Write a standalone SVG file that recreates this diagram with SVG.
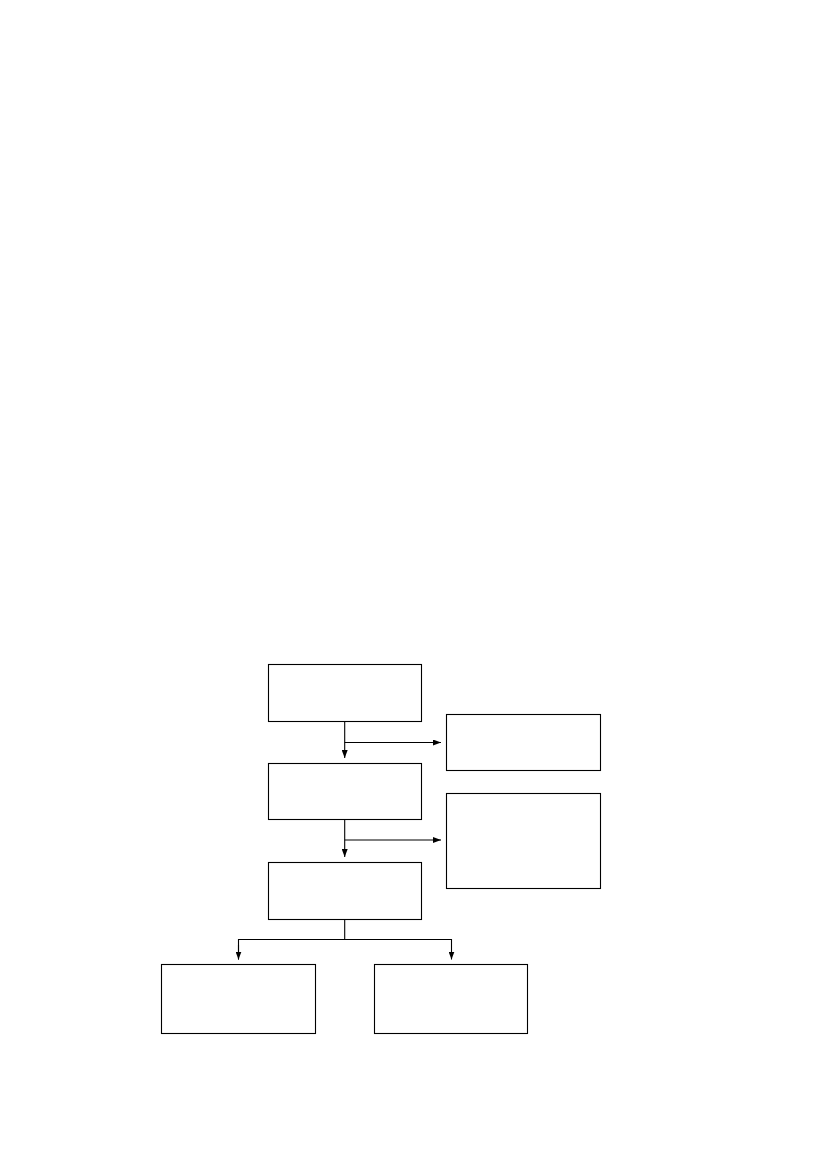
<svg xmlns="http://www.w3.org/2000/svg" width="827" height="1169" viewBox="0 0 827 1169">
<style>
.box{fill:#fff;stroke:#000;stroke-width:1.1}
.con{fill:none;stroke:#000;stroke-width:1.1}
</style>
<defs>
<marker id="ah" markerWidth="8" markerHeight="6" refX="8" refY="3" orient="auto" markerUnits="userSpaceOnUse">
<path d="M0,0 L8,3 L0,6 Z" fill="#000"/>
</marker>
</defs>
<rect width="827" height="1169" fill="#fff"/>
<g id="n1"><rect class="box" x="268.5" y="664.5" width="153" height="57"/></g>
<g id="n2"><rect class="box" x="446.5" y="714.5" width="154" height="56"/></g>
<g id="n3"><rect class="box" x="268.5" y="763.5" width="153" height="56"/></g>
<g id="n4"><rect class="box" x="446.5" y="793.5" width="154" height="95"/></g>
<g id="n5"><rect class="box" x="268.5" y="862.5" width="153" height="57"/></g>
<g id="n6"><rect class="box" x="161.5" y="964.5" width="154" height="69"/></g>
<g id="n7"><rect class="box" x="374.5" y="964.5" width="153" height="69"/></g>
<g id="connectors">
<path class="con" d="M344.7,721.5 V758" marker-end="url(#ah)"/>
<path class="con" d="M344.7,742.5 H441" marker-end="url(#ah)"/>
<path class="con" d="M344.7,819.5 V857" marker-end="url(#ah)"/>
<path class="con" d="M344.7,840 H441" marker-end="url(#ah)"/>
<path class="con" d="M344.7,919.5 V939.5"/>
<path class="con" d="M238.5,959.5 V939.5 H451.5 V959.5" marker-end="url(#ah)"/>
<path class="con" d="M238.5,945 V959.5" marker-end="url(#ah)"/>
</g>
</svg>
